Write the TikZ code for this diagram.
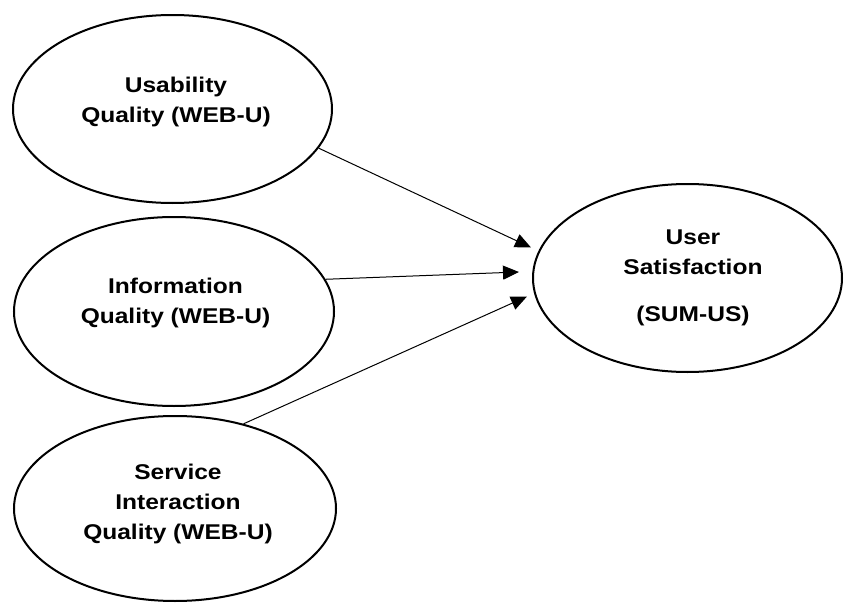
\documentclass[tikz,border=0pt]{standalone}
\usepackage{fontspec}
\setmainfont{Liberation Sans}[FakeStretch=1.15]
\usetikzlibrary{shapes.geometric,arrows.meta}
\begin{document}
\begin{tikzpicture}[x=0.75pt,y=-0.75pt,
  construct/.style={ellipse,draw,line width=1.5pt,inner sep=0pt},
  caption/.style={align=center,inner sep=0pt,
    font=\fontsize{16}{22.5}\selectfont\bfseries},
  link/.style={line width=0.75pt,-{Triangle[length=12pt,width=10.5pt]}}]
\useasboundingbox (0,0) rectangle (844,603);

% constructs
\node[construct,minimum width=239.25pt,minimum height=141pt]   (e1) at (172.5,109) {};
\node[construct,minimum width=240pt,minimum height=141.75pt]   (e2) at (174,311.5) {};
\node[construct,minimum width=241.5pt,minimum height=138.75pt] (e3) at (175,508.5) {};
\node[construct,minimum width=231.75pt,minimum height=141pt]   (e4) at (687.5,278) {};

% construct names
\node[caption] (t1) at (176,101.5) {Usability\\Quality (WEB-U)};
\node[caption] (t2) at (175.5,303) {Information\\Quality (WEB-U)};
\node[caption] (t3) at (178,503.7) {Service\\Interaction\\Quality (WEB-U)};
\node[caption] (t4) at (693,278) {User\\Satisfaction\\[13pt](SUM-US)};

% paths into user satisfaction
\coordinate (h1) at (531,247.5);
\coordinate (h2) at (519,272);
\coordinate (h3) at (527,296.5);
\draw[link] (e1.-15) -- (h1);
\draw[link] (e2.12.6) -- (h2);
\draw[link] (e3.51) -- (h3);
\end{tikzpicture}
\end{document}
